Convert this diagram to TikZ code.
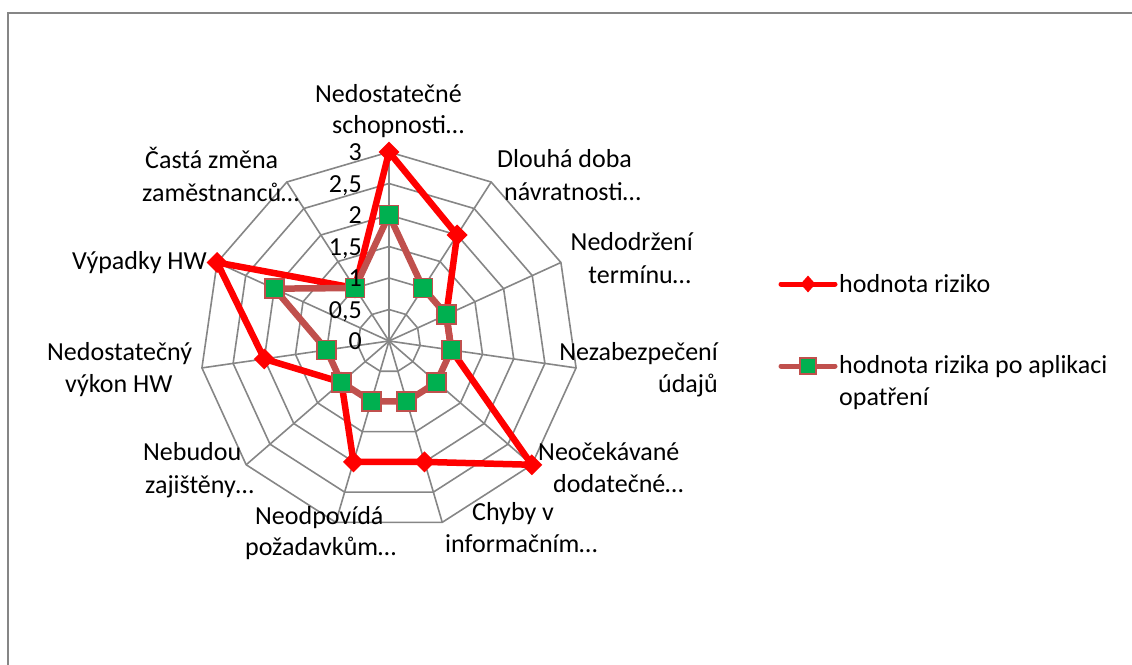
\documentclass[tikz,border=0pt]{standalone}
\usepackage{fontspec}
\setmainfont{Carlito}
\usetikzlibrary{shapes.geometric}
\definecolor{gridgray}{HTML}{868686}
\definecolor{seriesred}{HTML}{FF0000}
\definecolor{seriesbrown}{HTML}{C0504D}
\definecolor{markgreen}{HTML}{00B050}
\begin{document}
\begin{tikzpicture}[x=1pt,y=1pt,
  lab/.style={font=\fontsize{26}{32}\selectfont, inner sep=0pt},
  gridline/.style={draw=gridgray, line width=1.6},
  redseries/.style={draw=seriesred, line width=6.5, line join=round},
  brownseries/.style={draw=seriesbrown, line width=6.5, line join=round},
  redmark/.style={diamond, fill=seriesred, inner sep=0pt, minimum width=21, minimum height=21},
  greenmark/.style={rectangle, fill=markgreen, draw=seriesbrown, line width=1.8, inner sep=0pt, minimum size=19},
  legredmark/.style={diamond, fill=seriesred, inner sep=0pt, minimum width=15, minimum height=17},
  leggreenmark/.style={rectangle, fill=markgreen, draw=seriesbrown, line width=1.8, inner sep=0pt, minimum size=16},
]
\useasboundingbox (0,0) rectangle (1132,-664);
% outer chart frame (runs past the page edge on the right and bottom)
\begin{scope}
  \clip (0,0) rectangle (1132,-664);
  \draw[gridgray, line width=2] (8,-13) rectangle (1160,-700);
\end{scope}

% radar grid and data
\begin{scope}[shift={(389,-341)}]
  \foreach \r in {31.5,63,94.5,126,157.5,189}
    \draw[gridline] (90:\r) \foreach \k in {1,...,10}{ -- ({90-\k*360/11}:\r)} -- cycle;
  \foreach \k in {0,...,10}
    \draw[gridline] (0,0) -- ({90-\k*360/11}:189);

  % data points
  \foreach \v [count=\i from 0] in {3,2,1,1,3,2,2,1,2,3,1}
    \coordinate (r\i) at ({90-\i*360/11}:{\v*63});
  \foreach \v [count=\i from 0] in {2,1,1,1,1,1,1,1,1,2,1}
    \coordinate (g\i) at ({90-\i*360/11}:{\v*63});

  \draw[redseries] (r0) -- (r1) -- (r2) -- (r3) -- (r4) -- (r5) -- (r6) -- (r7) -- (r8) -- (r9) -- (r10) -- cycle;
  \foreach \i in {0,...,10}
    \node[redmark] (rm\i) at (r\i) {};
  \draw[brownseries] (g0) -- (g1) -- (g2) -- (g3) -- (g4) -- (g5) -- (g6) -- (g7) -- (g8) -- (g9) -- (g10) -- cycle;
  \foreach \i in {0,...,10}
    \node[greenmark] (gm\i) at (g\i) {};

  % value scale, printed over the series
  \foreach \v/\t in {0/0,0.5/{0,5},1/1,1.5/{1,5},2/2,2.5/{2,5},3/3}
    \node[lab, anchor=base east] (tick\v) at (-27,{\v*63-8.5}) {\t};
\end{scope}

% category labels
\node[lab, anchor=base west] (c0a) at (315,-102) {Nedostatečné};
\node[lab, anchor=base west] (c0b) at (332,-133) {schopnosti…};
\node[lab, anchor=base west] (c1a) at (497,-167) {Dlouhá doba};
\node[lab, anchor=base west] (c1b) at (504,-200) {návratnosti…};
\node[lab, anchor=base east] (c2a) at (693,-250) {Nedodržení};
\node[lab, anchor=base east] (c2b) at (691,-283) {termínu…};
\node[lab, anchor=base east] (c3a) at (718,-360) {Nezabezpečení};
\node[lab, anchor=base east] (c3b) at (718,-392) {údajů};
\node[lab, anchor=base west] (c4a) at (538,-460) {Neočekávané};
\node[lab, anchor=base west] (c4b) at (553,-492) {dodatečné…};
\node[lab, anchor=base west] (c5a) at (472,-520) {Chyby v};
\node[lab, anchor=base west] (c5b) at (445,-552) {informačním…};
\node[lab, anchor=base west] (c6a) at (255,-524) {Neodpovídá};
\node[lab, anchor=base west] (c6b) at (245,-555) {požadavkům…};
\node[lab, anchor=base west] (c7a) at (143,-460) {Nebudou};
\node[lab, anchor=base west] (c7b) at (145,-493) {zajištěny…};
\node[lab, anchor=base west] (c8a) at (47,-360) {Nedostatečný};
\node[lab, anchor=base west] (c8b) at (65,-392) {výkon HW};
\node[lab, anchor=base west] (c9a) at (72,-269) {Výpadky HW};
\node[lab, anchor=base west] (c10a) at (145,-168) {Častá změna};
\node[lab, anchor=base west] (c10b) at (142,-201) {zaměstnanců…};

% legend
\coordinate (l1a) at (781,-284);
\coordinate (l1b) at (835,-284);
\draw[seriesred, line width=5, line cap=round] (l1a) -- (l1b);
\node[legredmark] (l1m) at (808,-284) {};
\node[lab, anchor=base west] (l1t) at (839,-292) {hodnota riziko};
\coordinate (l2a) at (781,-366);
\coordinate (l2b) at (835,-366);
\draw[seriesbrown, line width=5, line cap=round] (l2a) -- (l2b);
\node[leggreenmark] (l2m) at (808,-366) {};
\node[lab, anchor=base west] (l2t) at (839,-373) {hodnota rizika po aplikaci};
\node[lab, anchor=base west] (l2u) at (839,-405) {opatření};
\end{tikzpicture}
\end{document}
